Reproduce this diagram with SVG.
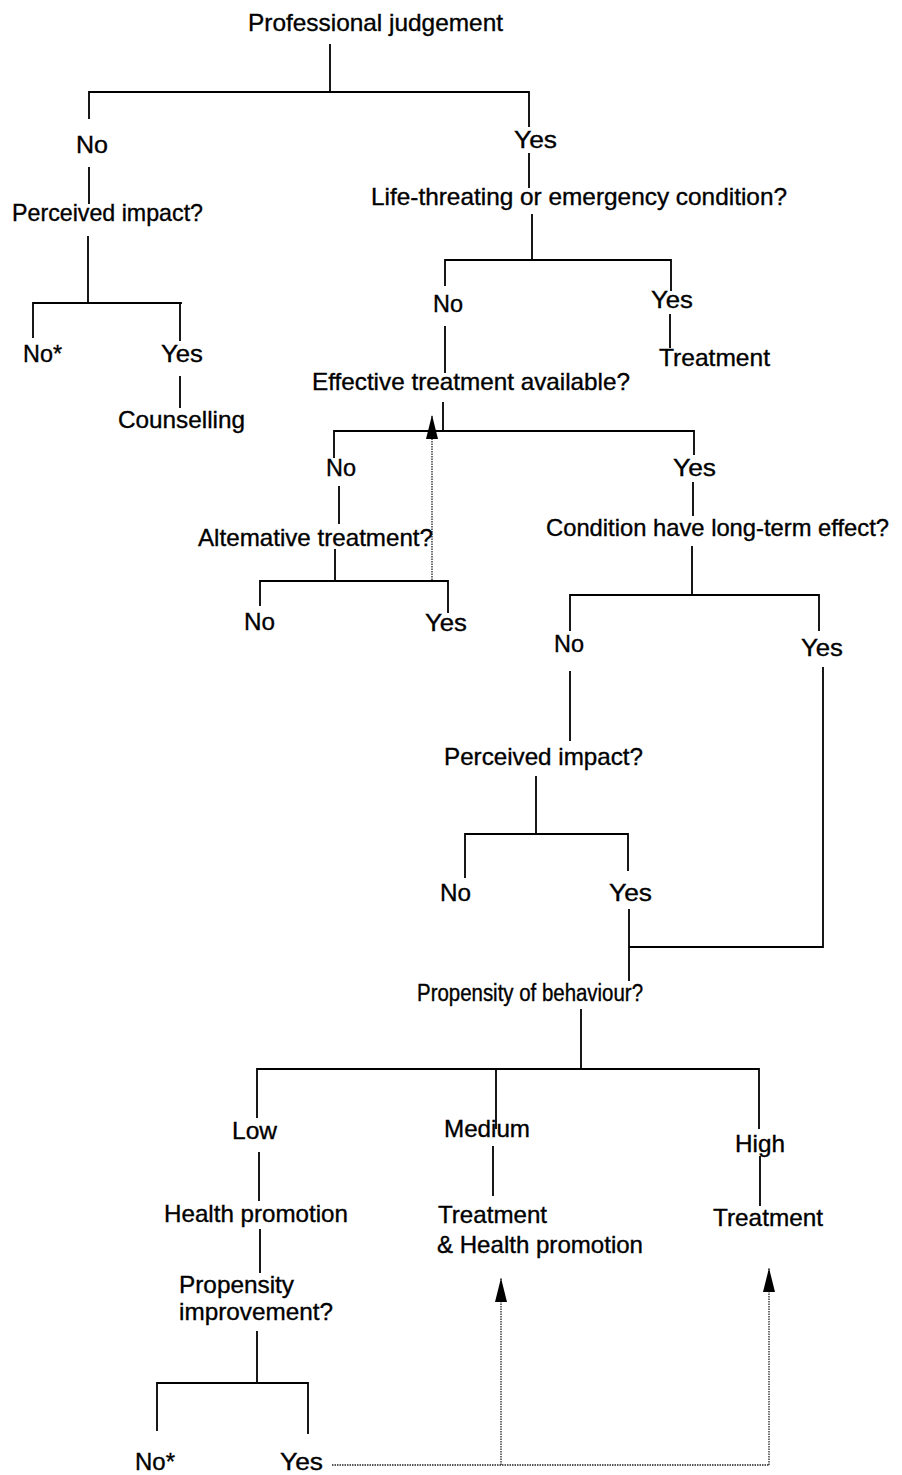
<svg xmlns="http://www.w3.org/2000/svg" width="902" height="1475" viewBox="0 0 902 1475">
  <style>
    text { font-family: "Liberation Sans", Arial, sans-serif; font-size: 24px; fill: #000; stroke: #000; stroke-width: 0.35; }
    .ln { fill: none; stroke: #000; stroke-width: 1.8; stroke-linecap: square; }
    .dot { fill: none; stroke: #222; stroke-width: 1.3; stroke-dasharray: 1.5 1; }
  </style>
  <defs>
    <marker id="head" markerUnits="userSpaceOnUse" markerWidth="24" markerHeight="12" viewBox="0 0 24 12" refX="24" refY="6" orient="auto">
      <path d="M0,0 L24,6 L0,12 z" fill="#000"/>
    </marker>
  </defs>
  <rect width="902" height="1475" fill="#fff"/>

  <!-- tree branches -->
  <g id="connectors">
    <path class="ln" d="M330,45 V92 M89,92 H529 M89,92 V118 M529,92 V126"/>
    <path class="ln" d="M89,168 V203 M88,237 V303 M33,303 H181 M33,303 V337 M180,303 V340 M180,377 V407"/>
    <path class="ln" d="M529,154 V187 M532,215 V260 M445,260 H671 M445,260 V285 M671,260 V290 M670,315 V347"/>
    <path class="ln" d="M445,327 V372 M443,403 V431 M334,431 H694 M334,431 V457 M694,431 V454"/>
    <path class="ln" d="M339,487 V523 M335,550 V581 M260,581 H448 M260,581 V605 M448,581 V612"/>
    <path class="ln" d="M693,483 V515 M692,547 V595 M570,595 H819 M570,595 V630 M819,595 V630"/>
    <path class="ln" d="M570,672 V740 M536,777 V834 M465,834 H628 M465,834 V877 M628,834 V870"/>
    <path class="ln" d="M629,910 V980 M629,947 H823 M823,668 V947"/>
    <path class="ln" d="M581,1010 V1069 M257,1069 H759 M257,1069 V1117 M496,1069 V1128 M759,1069 V1128"/>
    <path class="ln" d="M259,1153 V1200 M493,1147 V1195 M760,1157 V1205 M260,1230 V1272"/>
    <path class="ln" d="M257,1332 V1383 M157,1383 H308 M157,1383 V1430 M308,1383 V1433"/>
    <!-- loop-back paths -->
    <path class="dot" d="M432,580 V415" marker-end="url(#head)"/>
    <path class="dot" d="M332,1465 H769"/>
    <path class="dot" d="M501,1465 V1278" marker-end="url(#head)"/>
    <path class="dot" d="M769,1465 V1268" marker-end="url(#head)"/>
  </g>

  <g id="n-professional"><text x="248" y="31" textLength="255" lengthAdjust="spacingAndGlyphs">Professional judgement</text></g>
  <g id="n-pj-no"><text x="76" y="153" textLength="32" lengthAdjust="spacingAndGlyphs">No</text></g>
  <g id="n-perceived-1"><text x="12" y="221" textLength="191" lengthAdjust="spacingAndGlyphs">Perceived impact?</text></g>
  <g id="n-pi1-no"><text x="23" y="362" textLength="39" lengthAdjust="spacingAndGlyphs">No*</text></g>
  <g id="n-pi1-yes"><text x="161" y="362" textLength="42" lengthAdjust="spacingAndGlyphs">Yes</text></g>
  <g id="n-counselling"><text x="118" y="428" textLength="127" lengthAdjust="spacingAndGlyphs">Counselling</text></g>

  <g id="n-pj-yes"><text x="514" y="148" textLength="43" lengthAdjust="spacingAndGlyphs">Yes</text></g>
  <g id="n-emergency"><text x="371" y="205" textLength="416" lengthAdjust="spacingAndGlyphs">Life-threating or emergency condition?</text></g>
  <g id="n-em-no"><text x="433" y="312" textLength="30" lengthAdjust="spacingAndGlyphs">No</text></g>
  <g id="n-em-yes"><text x="651" y="308" textLength="42" lengthAdjust="spacingAndGlyphs">Yes</text></g>
  <g id="n-treatment-1"><text x="659" y="366" textLength="111" lengthAdjust="spacingAndGlyphs">Treatment</text></g>

  <g id="n-effective"><text x="312" y="390" textLength="318" lengthAdjust="spacingAndGlyphs">Effective treatment available?</text></g>
  <g id="n-ef-no"><text x="326" y="476" textLength="30" lengthAdjust="spacingAndGlyphs">No</text></g>
  <g id="n-ef-yes"><text x="673" y="476" textLength="43" lengthAdjust="spacingAndGlyphs">Yes</text></g>
  <g id="n-alternative"><text x="198" y="546" textLength="235" lengthAdjust="spacingAndGlyphs">Altemative treatment?</text></g>
  <g id="n-alt-no"><text x="244" y="630" textLength="31" lengthAdjust="spacingAndGlyphs">No</text></g>
  <g id="n-alt-yes"><text x="425" y="631" textLength="42" lengthAdjust="spacingAndGlyphs">Yes</text></g>

  <g id="n-longterm"><text x="546" y="536" textLength="343" lengthAdjust="spacingAndGlyphs">Condition have long-term effect?</text></g>
  <g id="n-lt-no"><text x="554" y="652" textLength="30" lengthAdjust="spacingAndGlyphs">No</text></g>
  <g id="n-lt-yes"><text x="801" y="656" textLength="42" lengthAdjust="spacingAndGlyphs">Yes</text></g>
  <g id="n-perceived-2"><text x="444" y="765" textLength="199" lengthAdjust="spacingAndGlyphs">Perceived impact?</text></g>
  <g id="n-pi2-no"><text x="440" y="901" textLength="31" lengthAdjust="spacingAndGlyphs">No</text></g>
  <g id="n-pi2-yes"><text x="609" y="901" textLength="43" lengthAdjust="spacingAndGlyphs">Yes</text></g>

  <g id="n-behaviour"><text x="417" y="1001" textLength="226" lengthAdjust="spacingAndGlyphs" style="font-size:23px">Propensity of behaviour?</text></g>
  <g id="n-low"><text x="232" y="1139" textLength="45" lengthAdjust="spacingAndGlyphs">Low</text></g>
  <g id="n-medium"><text x="444" y="1137" textLength="86" lengthAdjust="spacingAndGlyphs">Medium</text></g>
  <g id="n-high"><text x="735" y="1152" textLength="50" lengthAdjust="spacingAndGlyphs">High</text></g>
  <g id="n-health-promotion"><text x="164" y="1222" textLength="184" lengthAdjust="spacingAndGlyphs">Health promotion</text></g>
  <g id="n-treatment-hp">
    <text x="438" y="1223" textLength="109" lengthAdjust="spacingAndGlyphs">Treatment</text>
    <text x="437" y="1253" textLength="206" lengthAdjust="spacingAndGlyphs">&amp; Health promotion</text>
  </g>
  <g id="n-treatment-2"><text x="713" y="1226" textLength="110" lengthAdjust="spacingAndGlyphs">Treatment</text></g>
  <g id="n-improvement">
    <text x="179" y="1293" textLength="115" lengthAdjust="spacingAndGlyphs">Propensity</text>
    <text x="179" y="1320" textLength="154" lengthAdjust="spacingAndGlyphs">improvement?</text>
  </g>
  <g id="n-imp-no"><text x="135" y="1470" textLength="40" lengthAdjust="spacingAndGlyphs">No*</text></g>
  <g id="n-imp-yes"><text x="280" y="1470" textLength="43" lengthAdjust="spacingAndGlyphs">Yes</text></g>
</svg>
